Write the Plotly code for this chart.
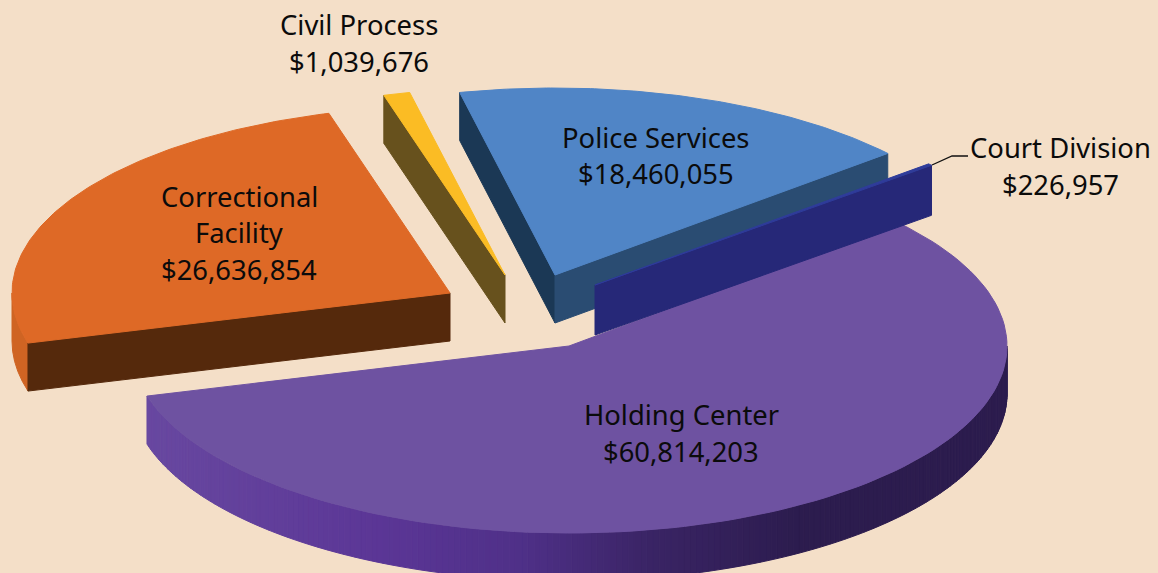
import numpy as np
import plotly.graph_objects as go

# budget by division, clockwise from the holding center
categories = ["Holding Center", "Correctional Facility", "Civil Process", "Police Services", "Court Division"]
values = [60814203, 26636854, 1039676, 18460055, 226957]

BG = "#f4dfc8"
RX, RY = 438, 187
START = -39.8
FONT = "Noto Sans"
FONT_SIZE = 27.4

total = sum(values)
ends = START + np.cumsum(values) / total * 360
starts = np.concatenate([[START], ends[:-1]])
angles = dict(zip(categories, zip(starts, ends)))


def rim(center, a0, a1, n=120):
    t = np.radians(np.linspace(a0, a1, n))
    return center[0] + RX * np.cos(t), center[1] + RY * np.sin(t)


def poly(fig, x, y, color):
    x, y = list(x), list(y)
    fig.add_trace(go.Scatter(x=x + x[:1], y=y + y[:1], mode="lines", fill="toself",
                             fillcolor=color, line=dict(color=color, width=1),
                             hoverinfo="skip", showlegend=False))


def top(fig, center, name, color, pad=0):
    a0, a1 = angles[name]
    x, y = rim(center, a0 - pad, a1)
    poly(fig, [center[0], *x], [center[1], *y], color)


def cut_wall(fig, center, angle, depth, color):
    x, y = rim(center, angle, angle, 1)
    poly(fig, [center[0], x[0], x[0], center[0]],
         [center[1], y[0], y[0] + depth, center[1] + depth], color)


def outer_wall(fig, center, a0, a1, depth, color_for, n=1):
    edges = np.linspace(a0, a1, n + 1)
    for e0, e1 in zip(edges[:-1], edges[1:]):
        x, y = rim(center, e0, e1, 6)
        poly(fig, [*x, *x[::-1]], [*y, *(y[::-1] + depth)], color_for(x.mean()))


def purple_shade(x):
    stops_x = [146, 380, 520, 650, 800, 1008]
    stops_c = [(104, 72, 160), (91, 54, 150), (79, 48, 136), (58, 36, 101), (44, 28, 78), (44, 28, 78)]
    r, g, b = [np.interp(x, stops_x, [c[i] for c in stops_c]) for i in range(3)]
    return f"rgb({r:.0f},{g:.0f},{b:.0f})"


fig = go.Figure()

# correctional
c = (450, 293)
a0, a1 = angles["Correctional Facility"]
outer_wall(fig, c, a0, 180, 48, lambda x: "#cf6423")
cut_wall(fig, c, a0, 48, "#55290c")
top(fig, c, "Correctional Facility", "#de6926")

# civil process
c = (505, 275)
a0, a1 = angles["Civil Process"]
cut_wall(fig, c, a0, 48, "#67511d")
top(fig, c, "Civil Process", "#fbbc24")

# police
c = (555, 275)
a0, a1 = angles["Police Services"]
cut_wall(fig, c, a0, 48, "#1b3855")
cut_wall(fig, c, a1, 48, "#2a4c72")
top(fig, c, "Police Services", "#5085c6")

# holding center, top runs a little under the court wall so no gap shows
c = (569, 346)
a0, a1 = angles["Holding Center"]
outer_wall(fig, c, 0, a1, 48, purple_shade, n=200)
top(fig, c, "Holding Center", "#6e52a1", pad=1.2)

# court division, mostly just its wall shows
c = (595, 285)
a0, a1 = angles["Court Division"]
cut_wall(fig, c, a1 - 360, 50, "#262878")
top(fig, c, "Court Division", "#2f3c9a")

# leader line
fig.add_trace(go.Scatter(x=[932, 952, 968], y=[165, 156, 156], mode="lines",
                         line=dict(color="#111111", width=1.3),
                         hoverinfo="skip", showlegend=False))


def label(x, y, text):
    fig.add_annotation(x=x, y=y, text=text, showarrow=False, xanchor="center", yanchor="middle",
                       font=dict(family=FONT, size=FONT_SIZE, color="#0b0b0b"))


money = {n: f"${v:,}" for n, v in zip(categories, values)}
label(359, 24, "Civil Process")
label(359, 61, money["Civil Process"])
label(656, 137, "Police Services")
label(656, 173, money["Police Services"])
label(1060, 147, "Court Division")
label(1060, 184, money["Court Division"])
label(239, 196, "Correctional")
label(239, 232, "Facility")
label(239, 269, money["Correctional Facility"])
label(681, 414, "Holding Center")
label(681, 451, money["Holding Center"])

fig.update_layout(
    width=1158,
    height=573,
    margin=dict(l=0, r=0, t=0, b=0),
    paper_bgcolor=BG,
    plot_bgcolor=BG,
    xaxis=dict(range=[0, 1158], visible=False, fixedrange=True),
    yaxis=dict(range=[573, 0], visible=False, fixedrange=True),
)
fig.write_html("out.html", config=dict(displayModeBar=False),
               post_script="document.body.style.margin='0';document.body.style.overflow='hidden';")
